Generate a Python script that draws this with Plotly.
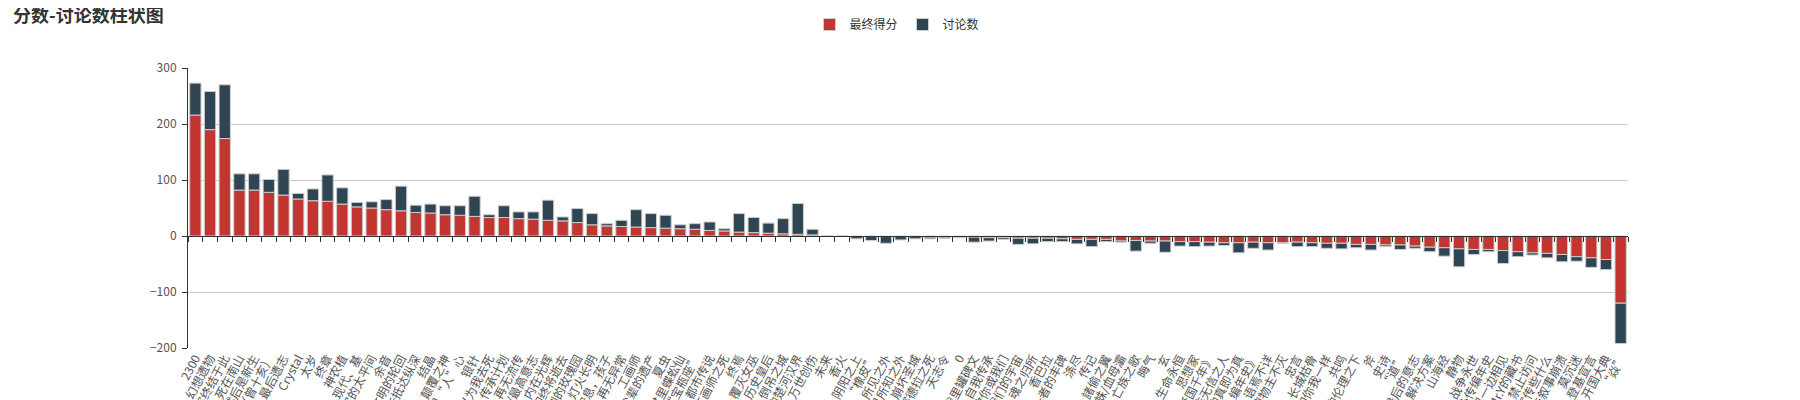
import plotly.graph_objects as go

names = [
    "2300", "幻想遗物", "字终结于此", "死在南山", "然后是新生", "（曾十亥）", "最后遗志", "Crystal",
    "太岁", "终章", "神农植", "现代、基", "定的太平间", "余音", "文明的轮回", "去抵达纵深",
    "结晶", "颠覆之神", "日见“人”心", "银针", "以为我去死", "传承计划", "再无流传", "/最高意志",
    "内在光辉", "切终将逝去", "制的玫瑰园", "灯火长明", "安息，孩子", "再无异常", "工画师", "父辈的遗产",
    "夏虫", "过里蝶蚣仙", "“宝瓶座”", "都市传说", "工画师之死", "终焉", "覆灭女巫", "历史皇后",
    "倒吊之城", "的楚河汉界", "万世创伤", "未来", "香火", "阴阳之上", "“橡皮”", "所见之外",
    "见所知之外", "崩坏圣城", "塞德拉之死", "天志令", "0", "我里罐碑文", "自我传承", "致你或我们",
    "我们的宇宙", "魂之归所", "香巴拉", "一者的丰碑", "涤尽", "传记", "諸偷之翼", "蛛/血母灞",
    "亡族之歌", "晦气", "玄", "生命永恒", "思想家", "诞国千年》", "非无信之人", "的真即为真",
    "编年史》", "语焉不详", "植物主不灭", "忠言", "长城枯骨", "如你我一样", "共鸣", "的伦理之下",
    "斧", "史诗", "“道”", "最后的意志", "解决方案", "山海经", "静物", "战争永世",
    "外传编年史", "另一边相见", "Mr.Y的藏书", "禁止访问", "宣传些什么", "与叙事崩溃", "莫沉迷", "登基宣言",
    "开国大典", "“焱”",
]

score = [
    216, 190, 174, 82, 82, 78, 73, 66,
    63, 62, 57, 52, 50, 47, 45, 42,
    41, 38, 37, 35, 33, 33, 31, 30,
    28, 27, 24, 20, 18, 17, 16, 15,
    14, 13, 12, 10, 9, 7, 6, 5,
    4, 3, 2, 0, 0, -1, -1, -1,
    -1, -1, -2, -2, -2, -2, -3, -3,
    -4, -4, -4, -5, -6, -6, -6, -9,
    -8, -9, -9, -10, -10, -11, -12, -12,
    -11, -12, -12, -11, -12, -13, -13, -15,
    -15, -16, -16, -18, -20, -21, -23, -24,
    -24, -26, -28, -30, -31, -33, -37, -39,
    -42, -120,
]

# discussion counts, stacked on the score (drawn on the same side as the score)
discuss = [
    57, 68, 96, 29, 29, 23, 46, 10,
    21, 47, 29, 8, 11, 18, 44, 13,
    16, 16, 17, 36, 5, 21, 12, 13,
    36, 7, 25, 20, 4, 11, 31, 25,
    23, 7, 10, 15, 4, 33, 27, 18,
    27, 55, 10, 0, 0, -4, -7, -12,
    -6, -4, -3, -2, -1, -9, -6, -3,
    -11, -10, -6, -5, -8, -13, -4, -2,
    -19, -4, -20, -8, -9, -7, -5, -18,
    -11, -13, -1, -8, -7, -9, -10, -6,
    -10, -3, -8, -4, -8, -15, -32, -9,
    -4, -23, -9, -4, -8, -13, -8, -17,
    -18, -72,
]

y_min, y_max = -200, 300
zero_pos = (0 - y_min) / (y_max - y_min)
x_range = [-0.5, len(names) - 0.5]

fig = go.Figure()
fig.add_trace(go.Bar(
    x=names, y=score, name="最终得分",
    marker=dict(color="#c23531", line=dict(color="#cccccc", width=1)),
))
fig.add_trace(go.Bar(
    x=names, y=discuss, name="讨论数",
    marker=dict(color="#2f4554", line=dict(color="#cccccc", width=1)),
))
# invisible trace that carries the category axis drawn on the zero line
fig.add_trace(go.Scatter(
    x=names, y=[0] * len(names), xaxis="x2", mode="markers",
    marker=dict(opacity=0), showlegend=False, hoverinfo="skip",
))

fig.update_layout(
    template="none",
    width=1800, height=400,
    margin=dict(l=180, r=180, t=60, b=60),
    barmode="relative",
    bargap=0.23,
    paper_bgcolor="white",
    plot_bgcolor="white",
    font=dict(family="Noto Sans CJK SC, sans-serif", size=12, color="#333"),
    title=dict(
        text="<b>分数-讨论数柱状图</b>",
        font=dict(size=18, color="#333"),
        xref="container", x=5 / 1800, xanchor="left",
        yref="container", y=1 - 1 / 400, yanchor="top",
    ),
    legend=dict(
        orientation="h",
        xref="container", x=0.5 - 11 / 1800, xanchor="center",
        yref="container", y=1 - 2 / 400, yanchor="top",
        font=dict(size=12, color="#333"),
    ),
    xaxis=dict(
        type="category", range=x_range,
        tickmode="linear", tick0=0, dtick=1,
        showline=False, ticks="", showgrid=False, zeroline=False,
        tickangle=-62, automargin=False,
        tickfont=dict(size=12, color="#555"),
    ),
    xaxis2=dict(
        overlaying="x", matches="x", anchor="free", position=zero_pos,
        showline=True, linecolor="#333", linewidth=1,
        ticks="outside", ticklen=5, tickcolor="#333", tickson="boundaries",
        tickmode="linear", tick0=0, dtick=1,
        showticklabels=False, showgrid=False, zeroline=False,
    ),
    yaxis=dict(
        range=[y_min, y_max], dtick=100,
        showline=True, linecolor="#333", linewidth=1,
        ticks="outside", ticklen=5, tickcolor="#333",
        ticklabelstandoff=3,
        showgrid=True, gridcolor="#cccccc", zeroline=False,
        automargin=False,
        tickfont=dict(size=12, color="#555"),
    ),
)

fig.write_html("out.html")
